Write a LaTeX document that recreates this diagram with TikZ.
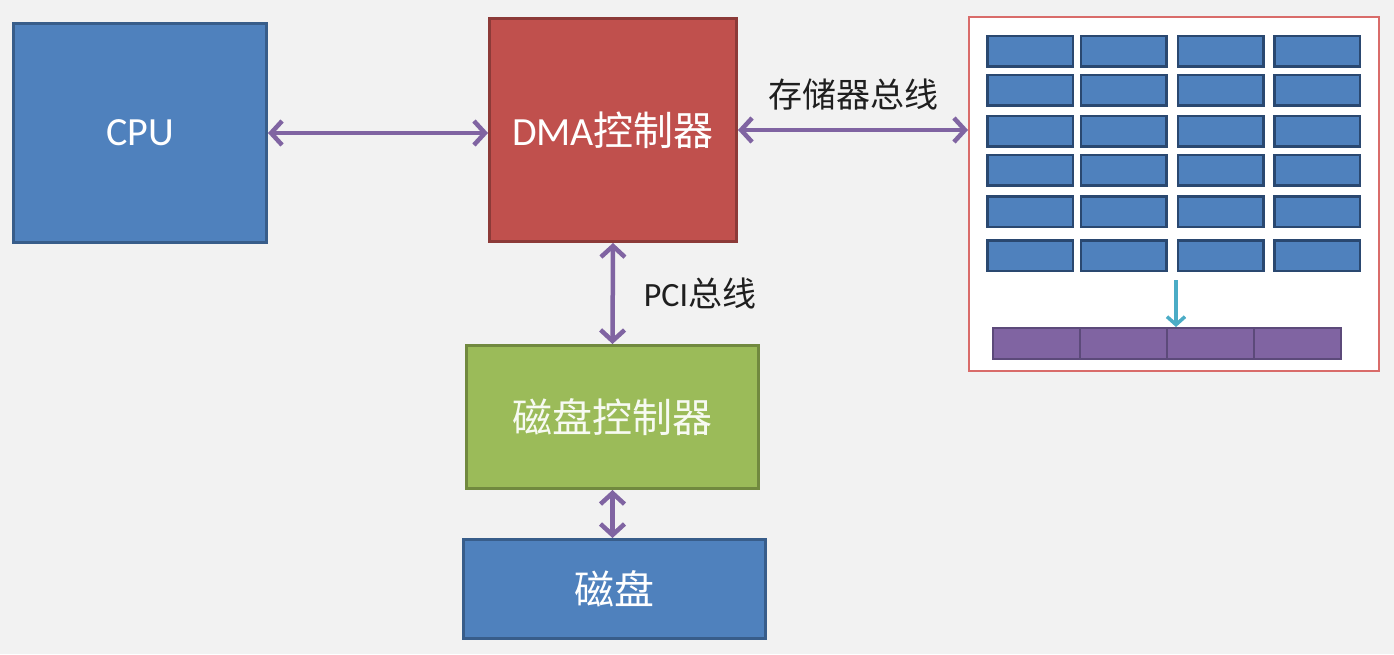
\documentclass[tikz,border=0pt]{standalone}
\usepackage{fontspec}
\setmainfont{Carlito}
\newfontfamily\cjk{Noto Sans CJK SC}
\usetikzlibrary{arrows.meta}
\definecolor{bggray}{HTML}{F2F2F2}
\definecolor{cpublue}{HTML}{4F81BD}
\definecolor{cpuline}{HTML}{385D8A}
\definecolor{dmared}{HTML}{C0504D}
\definecolor{dmaline}{HTML}{8C3A38}
\definecolor{ctrlgreen}{HTML}{9BBB59}
\definecolor{ctrlline}{HTML}{71893F}
\definecolor{memline}{HTML}{D96C6A}
\definecolor{cellline}{HTML}{2A4870}
\definecolor{barpurple}{HTML}{8064A2}
\definecolor{barline}{HTML}{5C4A7A}
\definecolor{buspurple}{HTML}{8064A2}
\definecolor{tapcyan}{HTML}{4BACC6}
\tikzset{
  box/.style={draw, line width=3pt, text=white, inner sep=0pt,
    font=\fontsize{40}{48}\selectfont},
  cell/.style={draw=cellline, fill=cpublue, line width=2.5pt, inner sep=0pt,
    minimum width=85.5pt, minimum height=30.5pt},
  barcell/.style={draw=barline, fill=barpurple, line width=2pt, inner sep=0pt,
    minimum width=87pt, minimum height=31pt},
  bus/.style={draw=buspurple, line width=4.5pt,
    {Straight Barb[length=11pt,width=24pt,line width=4.5pt]}-{Straight Barb[length=11pt,width=24pt,line width=4.5pt]}},
  buslabel/.style={text=black!88, font=\fontsize{34}{40}\selectfont},
}
\begin{document}
\begin{tikzpicture}[x=1pt,y=-1pt]
      \fill[bggray] (0,0) rectangle (1394,654);
      \useasboundingbox (0,0) rectangle (1394,654);
      \node[box, fill=cpublue, draw=cpuline, minimum width=253pt, minimum height=219pt]
        (cpu) at (140,133) {CPU};
      \node[box, fill=dmared, draw=dmaline, minimum width=247pt, minimum height=223pt]
        (dma) at (613,130) {DMA{\cjk 控制器}};
      \node[box, fill=ctrlgreen, draw=ctrlline, text=white!92!ctrlgreen,
        minimum width=292pt, minimum height=143pt]
        (ctrl) at (612.5,417) {\cjk 磁盘控制器};
      \node[box, fill=cpublue, draw=cpuline, minimum width=302pt, minimum height=99pt]
        (disk) at (614.5,589) {\cjk 磁盘};
      \node[draw=memline, fill=white, line width=2pt, minimum width=410pt, minimum height=354pt]
        (mem) at (1174,194) {};
      % memory cells
      \foreach \y [count=\r] in {51,90,131,170,211.5,255.5}
        \foreach \x [count=\c] in {1030,1123.5,1220.5,1317}
          \node[cell] (cell-\r-\c) at (\x,\y) {};
      \foreach \x [count=\c] in {1036.5,1123.5,1210.5,1297.5}
        \node[barcell] (bar-\c) at (\x,343.5) {};
      \coordinate (tap) at (1176,280);
      \draw[tapcyan, line width=3.5pt, -{Straight Barb[length=8pt,width=18pt,line width=3.5pt]}]
        (tap) -- (tap |- bar-3.north);
      % buses
      \draw[bus] (cpu.east) -- (cpu.east -| dma.west);
      \draw[bus] (dma.east) -- (dma.east -| mem.west);
      \draw[bus] (dma.south) -- (ctrl.north);
      \draw[bus] (ctrl.south) -- (ctrl.south |- disk.north);
      \node[buslabel] (membus) at (853,95) {\cjk 存储器总线};
      \node[buslabel] (pcibus) at (700,293) {PCI{\cjk 总线}};
    \end{tikzpicture}
\end{document}
